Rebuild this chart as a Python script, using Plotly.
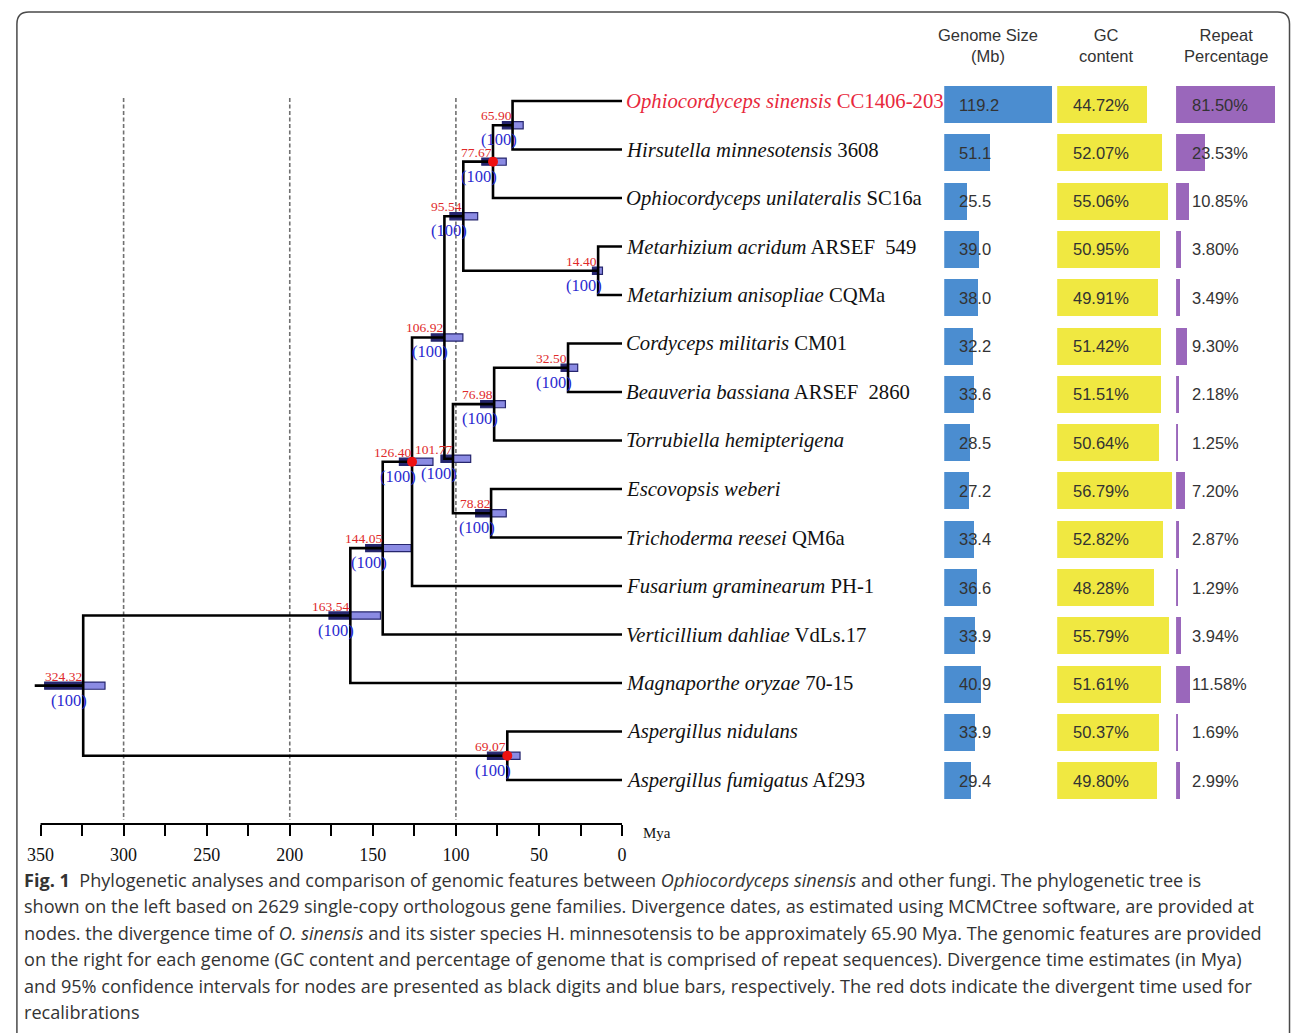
import plotly.graph_objects as go

W, H = 1296, 1033

# ---------------- data ----------------
species = ["Ophiocordyceps sinensis", "Hirsutella minnesotensis", "Ophiocordyceps unilateralis",
           "Metarhizium acridum", "Metarhizium anisopliae", "Cordyceps militaris",
           "Beauveria bassiana", "Torrubiella hemipterigena", "Escovopsis weberi",
           "Trichoderma reesei", "Fusarium graminearum", "Verticillium dahliae",
           "Magnaporthe oryzae", "Aspergillus nidulans", "Aspergillus fumigatus"]
strains = ["CC1406-203", "3608", "SC16a", "ARSEF\u00a0\u00a0549", "CQMa", "CM01",
           "ARSEF\u00a0\u00a02860", "", "", "QM6a", "PH-1", "VdLs.17", "70-15", "", "Af293"]
genome_size = [119.2, 51.1, 25.5, 39.0, 38.0, 32.2, 33.6, 28.5, 27.2, 33.4, 36.6, 33.9, 40.9, 33.9, 29.4]
gc_content = [44.72, 52.07, 55.06, 50.95, 49.91, 51.42, 51.51, 50.64, 56.79, 52.82, 48.28, 55.79, 51.61, 50.37, 49.80]
repeat_pct = [81.50, 23.53, 10.85, 3.80, 3.49, 9.30, 2.18, 1.25, 7.20, 2.87, 1.29, 3.94, 11.58, 1.69, 2.99]

node_names = ["A", "B", "M", "C", "D", "E", "F", "G", "Hn", "I", "J", "K", "L", "R"]
node_ages = [65.90, 77.67, 14.40, 95.54, 32.50, 76.98, 78.82, 101.77, 106.92, 126.40, 144.05, 163.54, 69.07, 324.32]
ci_old = [72.0, 84.4, 17.8, 103.6, 36.7, 85.1, 88.1, 109.0, 114.8, 134.0, 154.3, 176.4, 81.0, 347.5]
ci_young = [59.5, 69.7, 11.8, 86.9, 26.7, 70.2, 69.7, 91.1, 95.8, 113.8, 126.9, 145.4, 61.4, 311.2]
child_a = [0, "A", 3, "B", 5, "D", 8, "E", "C", "Hn", "I", "J", 13, "K"]
child_b = [1, 2, 4, "M", 6, 7, 9, "F", "G", 10, 11, 12, 14, "L"]
calibrated = [False, True, False, False, False, False, False, False, False, True, False, False, True, False]
bootstrap = [100] * 14
root_stem_age = 353.5

time_ticks = list(range(350, -1, -25))
time_labels = [str(t) if t % 50 == 0 else "" for t in time_ticks]
grid_ages = [300, 200, 100]

header_texts = ["Genome Size<br>(Mb)", "GC<br>content", "Repeat<br>Percentage"]

caption_lines = [
    "<b>Fig. 1</b>  Phylogenetic analyses and comparison of genomic features between <i>Ophiocordyceps sinensis</i> and other fungi. The phylogenetic tree is",
    "shown on the left based on 2629 single-copy orthologous gene families. Divergence dates, as estimated using MCMCtree software, are provided at",
    "nodes. the divergence time of <i>O. sinensis</i> and its sister species H. minnesotensis to be approximately 65.90 Mya. The genomic features are provided",
    "on the right for each genome (GC content and percentage of genome that is comprised of repeat sequences). Divergence time estimates (in Mya)",
    "and 95% confidence intervals for nodes are presented as black digits and blue bars, respectively. The red dots indicate the divergent time used for",
    "recalibrations",
]

# ---------------- helpers ----------------
def px(x):
    return x / W


def py(y):
    return 1 - y / H


idx = {n: i for i, n in enumerate(node_names)}


def ypos(c):
    if isinstance(c, int):
        return float(c)
    i = idx[c]
    return (ypos(child_a[i]) + ypos(child_b[i])) / 2


def agepos(c):
    return 0.0 if isinstance(c, int) else node_ages[idx[c]]


# layout geometry (pixels)
X_ZERO = 620.8
PX_PER_MYA = 1.677
X_MAX_AGE = 354
tree_left = X_ZERO - X_MAX_AGE * PX_PER_MYA
plot_top, plot_bot = 80, 824
row0_tree, row_step_tree = 101, 48.5
row0_bar, row_step_bar = 104.5, 48.3
n = len(species)

fig = go.Figure()

# tree branches
bx, by = [], []
for i, name in enumerate(node_names):
    a, b = child_a[i], child_b[i]
    ya, yb = ypos(a), ypos(b)
    bx += [agepos(a), node_ages[i], node_ages[i], agepos(b), None]
    by += [ya, ya, yb, yb, None]
root_i = idx["R"]
root_y = ypos("R")
bx += [root_stem_age, node_ages[root_i], None]
by += [root_y, root_y, None]

shapes = []
# dashed reference lines
for g in grid_ages:
    shapes.append(dict(type="line", xref="x", yref="paper", x0=g, x1=g,
                       y0=py(98), y1=py(820), line=dict(color="#707070", width=1.6, dash="4px,2.5px"),
                       layer="below"))
# confidence interval bars
hh = 3.6 / row_step_tree
for i, name in enumerate(node_names):
    ny = ypos(name)
    shapes.append(dict(type="rect", xref="x", yref="y", x0=node_ages[i], x1=ci_young[i],
                       y0=ny - hh, y1=ny + hh, fillcolor="#8b8be3",
                       line=dict(color="#26266e", width=1.2), layer="below"))
    shapes.append(dict(type="rect", xref="x", yref="y", x0=ci_old[i], x1=node_ages[i],
                       y0=ny - hh, y1=ny + hh, fillcolor="#26266e",
                       line=dict(color="#26266e", width=1.2), layer="below"))
# time axis line
shapes.append(dict(type="line", xref="x", yref="paper", x0=time_ticks[0], x1=time_ticks[-1],
                   y0=py(plot_bot), y1=py(plot_bot), line=dict(color="black", width=2)))
# rounded frame
r = 12
L, T, R_, B = 10, 12, 1294.5, 1045
path = (f"M {px(L)},{py(B)} L {px(L)},{py(T + r)} Q {px(L)},{py(T)} {px(L + r)},{py(T)} "
        f"L {px(R_ - r)},{py(T)} Q {px(R_)},{py(T)} {px(R_)},{py(T + r)} L {px(R_)},{py(B)}")
shapes.append(dict(type="path", xref="paper", yref="paper", path=path,
                   line=dict(color="#4a4a4a", width=1.5)))

fig.add_trace(go.Scatter(x=bx, y=by, mode="lines", line=dict(color="black", width=2.6),
                         hoverinfo="skip", showlegend=False, xaxis="x", yaxis="y"))

# calibration dots
cal_x = [node_ages[i] for i in range(len(node_names)) if calibrated[i]]
cal_y = [ypos(node_names[i]) for i in range(len(node_names)) if calibrated[i]]
fig.add_trace(go.Scatter(x=cal_x, y=cal_y, mode="markers",
                         marker=dict(color="#ee1111", size=10), showlegend=False,
                         xaxis="x", yaxis="y"))

# bars
rows = list(range(n))
bar_w = 37 / row_step_bar
fig.add_trace(go.Bar(x=genome_size, y=rows, orientation="h", width=bar_w,
                     marker=dict(color="#4b8dd0", line=dict(width=0)), xaxis="x2", yaxis="y2",
                     showlegend=False))
fig.add_trace(go.Bar(x=gc_content, y=rows, orientation="h", width=bar_w,
                     marker=dict(color="#f0e841", line=dict(width=0)), xaxis="x3", yaxis="y2",
                     showlegend=False))
fig.add_trace(go.Bar(x=repeat_pct, y=rows, orientation="h", width=bar_w,
                     marker=dict(color="#9a67bb", line=dict(width=0)), xaxis="x4", yaxis="y2",
                     showlegend=False))

ann = []
serif = "Liberation Serif, Times New Roman, serif"
sans = "Liberation Sans, Arial, sans-serif"
# species labels
for i in range(n):
    txt = f"<i>{species[i]}</i>" + (f" {strains[i]}" if strains[i] else "")
    ann.append(dict(xref="x", yref="y", x=0, y=i, xanchor="left", yanchor="middle", xshift=2,
                    text=txt, showarrow=False,
                    font=dict(family=serif, size=20.7, color="#e8283c" if i == 0 else "#111111")))
# node labels
for i, name in enumerate(node_names):
    ny = ypos(name)
    ann.append(dict(xref="x", yref="y", x=node_ages[i], y=ny, xanchor="right", yanchor="bottom",
                    xshift=1, yshift=0, text=f"{node_ages[i]:.2f}", showarrow=False,
                    font=dict(family=serif, size=13.5, color="#e02a2a")))
    ann.append(dict(xref="x", yref="y", x=node_ages[i], y=ny, xanchor="right", yanchor="top",
                    xshift=6, yshift=-3, text=f"({bootstrap[i]})", showarrow=False,
                    font=dict(family=serif, size=16.5, color="#2a2ad0")))
# bar value labels
for i in range(n):
    ann.append(dict(xref="x2", yref="y2", x=0, y=i, xanchor="left", yanchor="middle", xshift=13,
                    text=f"{genome_size[i]:.1f}", showarrow=False,
                    font=dict(family=sans, size=16.5, color="#333333")))
    ann.append(dict(xref="x3", yref="y2", x=0, y=i, xanchor="left", yanchor="middle", xshift=14,
                    text=f"{gc_content[i]:.2f}%", showarrow=False,
                    font=dict(family=sans, size=16.5, color="#333333")))
    ann.append(dict(xref="x4", yref="y2", x=0, y=i, xanchor="left", yanchor="middle", xshift=14,
                    text=f"{repeat_pct[i]:.2f}%", showarrow=False,
                    font=dict(family=sans, size=16.5, color="#333333")))
# headers
for cx, t in zip([990, 1110, 1230], header_texts):
    ann.append(dict(xref="paper", yref="paper", x=px(cx), y=py(46), xanchor="center",
                    yanchor="middle", text=t, showarrow=False,
                    font=dict(family=sans, size=16.5, color="#333333")))
# Mya
ann.append(dict(xref="paper", yref="paper", x=px(640), y=py(833), xanchor="left", yanchor="middle",
                text="Mya", showarrow=False, font=dict(family=serif, size=15, color="#111111")))
# caption
for k, line in enumerate(caption_lines):
    ann.append(dict(xref="paper", yref="paper", x=px(15), y=py(880 + k * 26.4), xanchor="left",
                    yanchor="middle", text=line, showarrow=False,
                    font=dict(family="Open Sans, sans-serif", size=18.1, color="#333333")))

fig.update_layout(
    width=W, height=H, margin=dict(l=0, r=0, t=0, b=0),
    paper_bgcolor="white", plot_bgcolor="rgba(0,0,0,0)",
    shapes=shapes, annotations=ann, bargap=0,
    xaxis=dict(domain=[px(tree_left), px(X_ZERO)], range=[X_MAX_AGE, 0], anchor="y",
               showgrid=False, zeroline=False, showline=False,
               tickmode="array", tickvals=time_ticks, ticktext=time_labels,
               ticks="outside", ticklen=11, tickwidth=2, tickcolor="black",
               ticklabelstandoff=3,
               tickfont=dict(family=serif, size=18, color="#111111")),
    yaxis=dict(domain=[py(plot_bot), py(plot_top)],
               range=[(plot_bot - row0_tree) / row_step_tree, (plot_top - row0_tree) / row_step_tree],
               visible=False, anchor="x"),
    yaxis2=dict(domain=[py(plot_bot), py(plot_top)],
                range=[(plot_bot - row0_bar) / row_step_bar, (plot_top - row0_bar) / row_step_bar],
                visible=False, anchor="x2"),
    xaxis2=dict(domain=[px(946), px(1056)], range=[0, 110 / 0.914], visible=False, anchor="y2"),
    xaxis3=dict(domain=[px(1060), px(1178)], range=[0, 118 / 2.035], visible=False, anchor="y2"),
    xaxis4=dict(domain=[px(1180), px(1282)], range=[0, 102 / 1.227], visible=False, anchor="y2"),
)

fig.write_html("out.html", config={"displayModeBar": False},
               post_script="document.body.style.margin='0';document.body.style.overflow='hidden';")
